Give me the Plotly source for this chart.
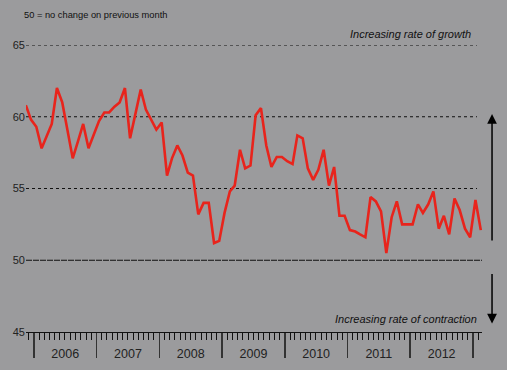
import pandas as pd
import plotly.graph_objects as go

# Monthly index values (50 = no change on previous month)
pmi_2005 = [60.8, 59.8]  # Nov, Dec
pmi_2006 = [59.3, 57.8, 58.6, 59.5, 62.0, 61.0, 59.1, 57.1, 58.3, 59.5, 57.8, 58.7]
pmi_2007 = [59.7, 60.3, 60.3, 60.7, 61.0, 62.0, 58.5, 60.2, 61.9, 60.5, 59.8, 59.1]
pmi_2008 = [59.6, 55.9, 57.1, 58.0, 57.3, 56.1, 55.9, 53.2, 54.0, 54.0, 51.2, 51.35]
pmi_2009 = [53.3, 54.8, 55.2, 57.7, 56.4, 56.6, 60.1, 60.6, 58.0, 56.5, 57.2, 57.2]
pmi_2010 = [56.9, 56.7, 58.7, 58.5, 56.4, 55.6, 56.3, 57.7, 55.2, 56.5, 53.1, 53.1]
pmi_2011 = [52.1, 52.0, 51.8, 51.6, 54.4, 54.1, 53.4, 50.5, 53.0, 54.1, 52.5, 52.5]
pmi_2012 = [52.5, 53.9, 53.3, 53.9, 54.8, 52.2, 53.1, 51.8, 54.3, 53.5, 52.2, 51.6]
pmi_2013 = [54.2, 52.1]  # Jan, Feb

values = pmi_2005 + pmi_2006 + pmi_2007 + pmi_2008 + pmi_2009 + pmi_2010 + pmi_2011 + pmi_2012 + pmi_2013
first_month = "2005-11"
months = pd.date_range(first_month, periods=len(values), freq="MS") + pd.Timedelta(days=14)

y_ticks = [45, 50, 55, 60, 65]
dashed_levels = [55, 60, 65]
no_change_level = 50

BG = "#9b9b9d"
RED = "#e8241c"
FONT = "Arial, Liberation Sans, sans-serif"

fig = go.Figure()
fig.add_trace(go.Scatter(
    x=months, y=values, mode="lines",
    line=dict(color=RED, width=2.6),
    hoverinfo="skip", showlegend=False,
))

for lvl in dashed_levels:
    fig.add_shape(type="line", xref="paper", yref="y", x0=0, x1=0.989, y0=lvl, y1=lvl,
                  line=dict(color="#111111", width=1.2, dash="3px,3px"), layer="below")
fig.add_shape(type="line", xref="paper", yref="y", x0=0, x1=1.0, y0=no_change_level, y1=no_change_level,
              line=dict(color="#111111", width=1.2, dash="6px,1px"), layer="below")

# Arrows (head position in axis units, tail offset in pixels)
fig.add_annotation(xref="paper", yref="y", x=1.022, y=60.2, ax=0, ay=128,
                   text="", showarrow=True, arrowhead=2, arrowsize=1.3, arrowwidth=1.5, arrowcolor="#000000")
fig.add_annotation(xref="paper", yref="y", x=1.022, y=45.6, ax=0, ay=-51,
                   text="", showarrow=True, arrowhead=2, arrowsize=1.3, arrowwidth=1.5, arrowcolor="#000000")

fig.add_annotation(xref="paper", yref="paper", x=-0.009, y=1.1045, xanchor="left", yanchor="middle",
                   text="50 = no change on previous month", showarrow=False,
                   font=dict(family=FONT, size=9.3, color="#111111"))
fig.add_annotation(xref="paper", yref="paper", x=0.980, y=1.038, xanchor="right", yanchor="middle",
                   text="<i>Increasing rate of growth</i>", showarrow=False,
                   font=dict(family=FONT, size=11, color="#111111"))
fig.add_annotation(xref="paper", yref="paper", x=0.9934, y=0.0453, xanchor="right", yanchor="middle",
                   text="<i>Increasing rate of contraction</i>", showarrow=False,
                   font=dict(family=FONT, size=11, color="#111111"))

fig.update_layout(
    width=507, height=370,
    margin=dict(l=26, r=25, t=45, b=38, autoexpand=False),
    paper_bgcolor=BG, plot_bgcolor=BG,
    font=dict(family=FONT, color="#222222"),
    showlegend=False,
)
fig.update_xaxes(
    type="date", range=["2005-11-16", "2013-02-22"], automargin=False,
    showgrid=False, zeroline=False,
    showline=True, linecolor="#111111", linewidth=1,
    ticks="outside", tick0="2006-01-01", dtick="M12", ticklen=25, tickwidth=1.5, tickcolor="#333333",
    tickformat="%Y", ticklabelmode="period", ticklabelstandoff=-15,
    tickfont=dict(family=FONT, size=12.5, color="#222222"),
    minor=dict(ticks="outside", dtick="M1", ticklen=7, tickwidth=1, tickcolor="#111111", showgrid=False),
)
fig.update_yaxes(
    range=[45, 65], tickvals=y_ticks, showgrid=False, zeroline=False, showline=False, automargin=False,
    ticks="", tickfont=dict(family=FONT, size=11, color="#222222"),
)

fig.write_html(
    "out.html",
    config={"displayModeBar": False, "staticPlot": True},
    post_script="document.body.style.margin='0';document.body.style.overflow='hidden';document.body.style.background='%s';" % BG,
)
